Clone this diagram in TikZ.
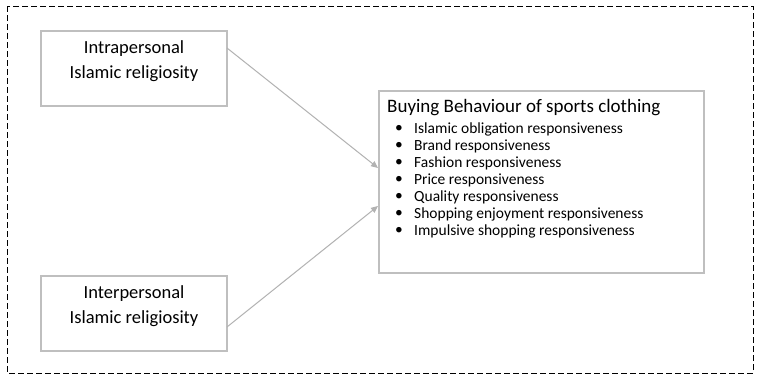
\documentclass[tikz,border=0pt]{standalone}
\usepackage{fontspec}
\setmainfont{Carlito}
\usetikzlibrary{arrows.meta}
\begin{document}
\begin{tikzpicture}[x=1pt,y=-1pt,
  box/.style={draw=black!25,line width=1.2pt,fill=white},
  conn/.style={draw=black!30,line width=1pt,-{Triangle[length=7pt,width=6pt]}},
  item/.style={anchor=west,inner sep=0pt,font=\fontsize{15.5}{17}\selectfont}]
\useasboundingbox (0,0) rectangle (763,383);
\fill[white] (0,0) rectangle (763,383);
\draw[line width=1pt,dash pattern=on 6pt off 3pt] (7,6) rectangle (753,373);
\node[box,minimum width=186pt,minimum height=75pt] (intra) at (134,68.5) {};
\node[align=center,font=\fontsize{18.5}{25}\selectfont,inner sep=0pt] at (134,61) {Intrapersonal\\Islamic religiosity};
\node[box,minimum width=186pt,minimum height=75pt] (inter) at (134,313.5) {};
\node[align=center,font=\fontsize{18.5}{25}\selectfont,inner sep=0pt] at (134,306) {Interpersonal\\Islamic religiosity};
\node[box,minimum width=325pt,minimum height=182pt] (bb) at (541.5,182) {};
\node[anchor=west,inner sep=0pt,font=\fontsize{19}{22}\selectfont] at (387,108) {Buying Behaviour of sports clothing};
\foreach \t [count=\i] in {Islamic obligation responsiveness,Brand responsiveness,Fashion responsiveness,Price responsiveness,Quality responsiveness,Shopping enjoyment responsiveness,Impulsive shopping responsiveness}{
  \node[item] at (395,112+17*\i) {\textbullet};
  \node[item] at (414,112+17*\i) {\t};
}
\coordinate (a1) at (227,48);
\coordinate (a2) at (227,327);
\coordinate (t1) at (378,168);
\coordinate (t2) at (378,206);
\draw[conn] (a1) -- (t1);
\draw[conn] (a2) -- (t2);
\end{tikzpicture}
\end{document}
